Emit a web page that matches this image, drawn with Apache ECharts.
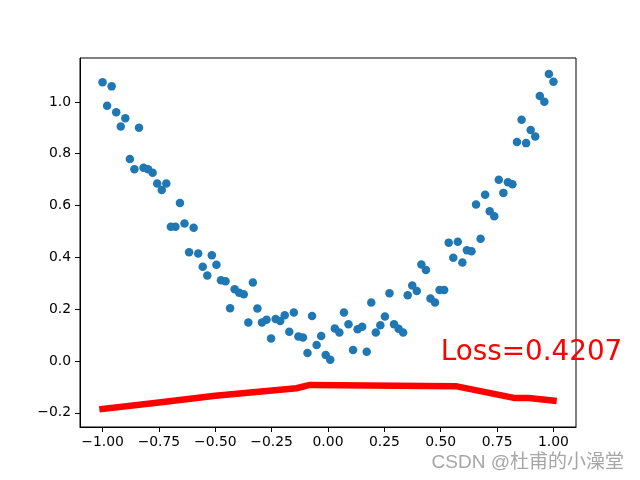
<!DOCTYPE html>
<html><head><meta charset="utf-8">
<script src="https://cdn.jsdelivr.net/npm/echarts@6/dist/echarts.min.js"></script>
<style>html,body{margin:0;padding:0;background:#fff}#c{width:640px;height:480px}</style>
</head><body><div id="c"></div>
<script>
const xValues = [-1.0000,-0.9798,-0.9596,-0.9394,-0.9192,-0.8990,-0.8788,-0.8586,-0.8384,-0.8182,
-0.7980,-0.7778,-0.7576,-0.7374,-0.7172,-0.6970,-0.6768,-0.6566,-0.6364,-0.6162,
-0.5960,-0.5758,-0.5556,-0.5354,-0.5152,-0.4949,-0.4747,-0.4545,-0.4343,-0.4141,
-0.3939,-0.3737,-0.3535,-0.3333,-0.3131,-0.2929,-0.2727,-0.2525,-0.2323,-0.2121,
-0.1919,-0.1717,-0.1515,-0.1313,-0.1111,-0.0909,-0.0707,-0.0505,-0.0303,-0.0101,
0.0101,0.0303,0.0505,0.0707,0.0909,0.1111,0.1313,0.1515,0.1717,0.1919,
0.2121,0.2323,0.2525,0.2727,0.2929,0.3131,0.3333,0.3535,0.3737,0.3939,
0.4141,0.4343,0.4545,0.4747,0.4949,0.5152,0.5354,0.5556,0.5758,0.5960,
0.6162,0.6364,0.6566,0.6768,0.6970,0.7172,0.7374,0.7576,0.7778,0.7980,
0.8182,0.8384,0.8586,0.8788,0.8990,0.9192,0.9394,0.9596,0.9798,1.0000];
const yValues = [1.076,0.985,1.060,0.960,0.905,0.937,0.780,0.740,0.900,0.746,
0.740,0.727,0.685,0.660,0.685,0.518,0.518,0.610,0.531,0.420,
0.514,0.415,0.364,0.330,0.408,0.372,0.312,0.308,0.204,0.277,
0.264,0.258,0.149,0.303,0.203,0.149,0.159,0.087,0.162,0.155,
0.177,0.113,0.187,0.095,0.091,0.031,0.174,0.062,0.097,0.023,
0.005,0.126,0.110,0.187,0.142,0.043,0.123,0.132,0.036,0.226,
0.110,0.138,0.172,0.262,0.142,0.125,0.110,0.254,0.292,0.270,
0.373,0.351,0.241,0.226,0.274,0.274,0.457,0.399,0.460,0.380,
0.428,0.424,0.604,0.472,0.642,0.578,0.559,0.700,0.649,0.690,
0.682,0.845,0.931,0.841,0.892,0.867,1.023,1.001,1.108,1.078];
const predX = [-1.0,-0.75,-0.5,-0.14,-0.08,0.566,0.83,0.89,1.0];
const predY = [-0.185,-0.160,-0.134,-0.105,-0.092,-0.097,-0.143,-0.143,-0.153];
const xTicks = [-1.0,-0.75,-0.5,-0.25,0,0.25,0.5,0.75,1.0];
const yTicks = [-0.2,0,0.2,0.4,0.6,0.8,1.0];
const lossText = 'Loss=0.4207';
const lossPos = [0.5, 0];
const watermark = 'CSDN @杜甫的小澡堂';

const fmt = (v, d) => (v < 0 ? '\u2212' : '') + Math.abs(v).toFixed(d);
const chart = echarts.init(document.getElementById('c'), null, {renderer: 'canvas'});
const axisFont = {fontFamily: 'DejaVu Sans', fontSize: 13.9, color: '#000'};
chart.setOption({
  animation: false,
  backgroundColor: '#fff',
  grid: {left: 80, top: 58, width: 496, height: 369, show: true, borderColor: '#000', borderWidth: 1, backgroundColor: 'transparent'},
  xAxis: {
    type: 'value', min: -1.1, max: 1.1,
    splitLine: {show: false},
    axisLine: {show: true, onZero: false, lineStyle: {color: '#000', width: 1}},
    axisTick: {show: true, length: 5, lineStyle: {color: '#000'}, customValues: xTicks},
    axisLabel: Object.assign({margin: 8, customValues: xTicks, formatter: v => fmt(v, 2)}, axisFont)
  },
  yAxis: {
    type: 'value', min: -0.2545, max: 1.1695,
    splitLine: {show: false},
    axisLine: {show: true, onZero: false, lineStyle: {color: '#000', width: 1}},
    axisTick: {show: true, length: 5, lineStyle: {color: '#000'}, customValues: yTicks},
    axisLabel: Object.assign({margin: 9, customValues: yTicks, formatter: v => fmt(v, 1)}, axisFont)
  },
  series: [
    {type: 'scatter', data: xValues.map((x, i) => [x, yValues[i]]), symbolSize: 8.5,
     itemStyle: {color: '#1f77b4', opacity: 1}, z: 2},
    {type: 'line', data: predX.map((x, i) => [x, predY[i]]), showSymbol: false, symbol: 'none',
     lineStyle: {color: '#ff0000', width: 6.5, cap: 'square', join: 'round'}, z: 3}
  ]
});
const p = chart.convertToPixel({gridIndex: 0}, lossPos);
chart.setOption({
  graphic: [
    {type: 'text', left: p[0], top: p[1] - 22, z: 10,
     style: {text: lossText, fill: '#ff0000', font: '27.8px "DejaVu Sans"'}},
    {type: 'text', right: 16, top: 453, z: 10,
     style: {text: watermark, fill: '#a6a6a6', font: '19px "Liberation Sans", "Noto Sans CJK SC"'}}
  ]
});
</script></body></html>
